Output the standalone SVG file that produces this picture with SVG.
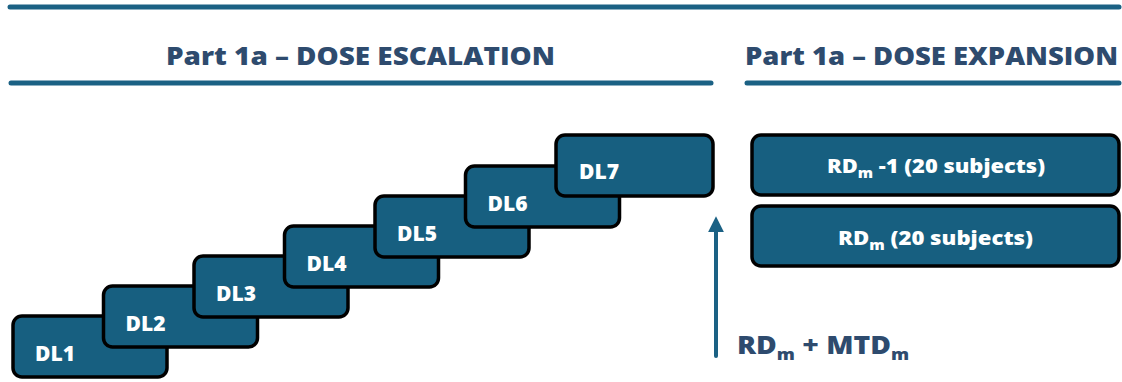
<svg xmlns="http://www.w3.org/2000/svg" width="1122" height="382" viewBox="0 0 1122 382">
<style>
.rule{stroke:#1B6184;stroke-width:5;stroke-linecap:round;fill:none}
.head{font-family:"Open Sans","Liberation Sans",sans-serif;font-weight:800;font-size:24px;fill:#2E4B6E}
.box{fill:#175F80;stroke:#000;stroke-width:3.5}
.dl{font-family:"Open Sans","Liberation Sans",sans-serif;font-weight:800;font-size:21px;fill:#fff}
.rd{font-family:"Open Sans","Liberation Sans",sans-serif;font-weight:800;font-size:20px;fill:#fff}
.lbl{font-family:"Open Sans","Liberation Sans",sans-serif;font-weight:800;font-size:25px;fill:#2E4B6E}
</style>
<defs>
<marker id="ah" viewBox="0 0 10 10" refX="2" refY="5" markerWidth="16" markerHeight="16" markerUnits="userSpaceOnUse" orient="auto">
<path d="M0,0 L10,5 L0,10 Z" fill="#1B6184"/>
</marker>
</defs>
<g id="rules">
<line class="rule" x1="10" y1="7" x2="1119" y2="7"/>
<line class="rule" x1="11" y1="83" x2="711" y2="83"/>
<line class="rule" x1="747" y1="83" x2="1119" y2="83"/>
</g>
<g id="headings">
<text class="head" x="166" y="65" textLength="389" lengthAdjust="spacingAndGlyphs">Part 1a – DOSE ESCALATION</text>
<text class="head" x="745" y="65" textLength="373" lengthAdjust="spacingAndGlyphs">Part 1a – DOSE EXPANSION</text>
</g>
<g id="dl1"><rect class="box" x="13" y="316" width="154" height="61" rx="9"/><text class="dl" x="35" y="361">DL1</text></g>
<g id="dl2"><rect class="box" x="103.5" y="286" width="154" height="61" rx="9"/><text class="dl" x="125.5" y="331">DL2</text></g>
<g id="dl3"><rect class="box" x="194" y="256" width="154" height="61" rx="9"/><text class="dl" x="216" y="301">DL3</text></g>
<g id="dl4"><rect class="box" x="284.5" y="226" width="154" height="61" rx="9"/><text class="dl" x="306.5" y="271">DL4</text></g>
<g id="dl5"><rect class="box" x="375" y="196" width="154" height="61" rx="9"/><text class="dl" x="397" y="241">DL5</text></g>
<g id="dl6"><rect class="box" x="465.5" y="166" width="154" height="61" rx="9"/><text class="dl" x="487.5" y="211">DL6</text></g>
<g id="dl7"><rect class="box" x="556" y="135" width="157" height="61" rx="9"/><text class="dl" x="579" y="179">DL7</text></g>
<g id="rdm1"><rect class="box" x="752" y="135" width="367" height="60" rx="9"/><text class="rd" x="827" y="173" textLength="218" lengthAdjust="spacingAndGlyphs">RD<tspan font-size="14" dy="5">m</tspan><tspan dy="-5"> -1 (20 subjects)</tspan></text></g>
<g id="rdm"><rect class="box" x="752" y="206" width="367" height="60" rx="9"/><text class="rd" x="838" y="245" textLength="195" lengthAdjust="spacingAndGlyphs">RD<tspan font-size="14" dy="5">m</tspan><tspan dy="-5"> (20 subjects)</tspan></text></g>
<g id="connectors">
<line x1="716" y1="356" x2="716" y2="229" stroke="#1B6184" stroke-width="4" stroke-linecap="round" marker-end="url(#ah)"/>
</g>
<g id="label"><text class="lbl" x="737" y="354" textLength="172" lengthAdjust="spacingAndGlyphs">RD<tspan font-size="16" dy="6">m</tspan><tspan dy="-6"> + MTD</tspan><tspan font-size="16" dy="6">m</tspan></text></g>
</svg>
